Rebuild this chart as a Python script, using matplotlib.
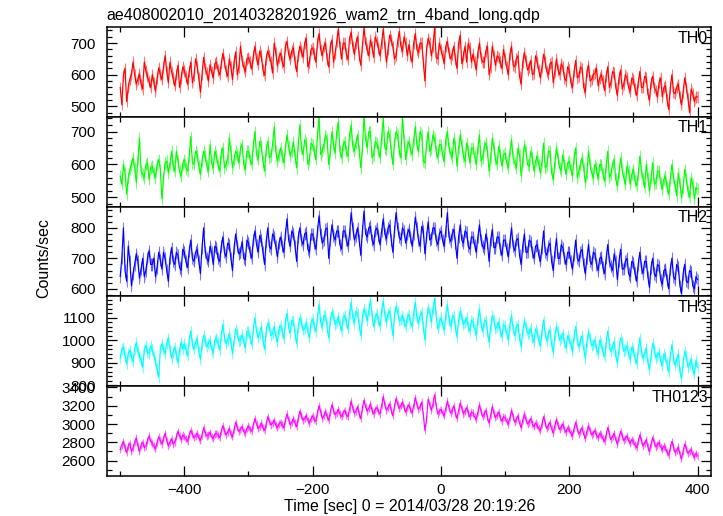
import numpy as np
import matplotlib
matplotlib.use('Agg')
import matplotlib.pyplot as plt
from matplotlib.ticker import MultipleLocator

plt.rcParams['font.family'] = ['Liberation Sans', 'DejaVu Sans']

TITLE = 'ae408002010_20140328201926_wam2_trn_4band_long.qdp'
XLABEL = 'Time [sec] 0 = 2014/03/28 20:19:26'
YLABEL = 'Counts/sec'

# time bins: main samples every 5 s from -500 to 400, plus the samples halfway between
t_start, t_stop, t_step = -500, 400, 5

# count rates, at the 5 s samples
th0 = [560, 598, 515, 585, 640, 570, 603, 555, 612, 578,
       600, 548, 622, 585, 660, 575, 610, 565, 630, 590,
       612, 570, 640, 598, 625, 545, 655, 605, 632, 590,
       640, 600, 668, 612, 650, 585, 672, 625, 645, 610,
       655, 618, 690, 632, 660, 598, 675, 640, 700, 628,
       668, 625, 705, 650, 685, 610, 690, 655, 715, 640,
       685, 640, 730, 660, 700, 625, 710, 668, 745, 650,
       700, 648, 735, 665, 720, 630, 748, 680, 710, 655,
       705, 660, 745, 640, 725, 690, 660, 738, 675, 700,
       695, 640, 730, 670, 700, 580, 715, 660, 748, 650,
       680, 635, 705, 650, 690, 620, 725, 660, 640, 685,
       665, 615, 700, 640, 675, 600, 690, 630, 655, 620,
       650, 600, 690, 625, 660, 570, 670, 615, 645, 605,
       640, 590, 665, 610, 635, 575, 650, 600, 625, 580,
       615, 560, 645, 595, 620, 545, 630, 585, 605, 565,
       600, 550, 625, 575, 605, 535, 615, 570, 590, 548,
       585, 535, 610, 560, 590, 520, 595, 550, 575, 530,
       565, 490, 600, 540, 570, 505, 590, 525, 555, 515,
       530]
# and halfway between them
th0_mid = [505, 620, 560, 600, 600, 585, 570, 640, 595, 560,
           575, 590, 600, 625, 610, 640, 590, 600, 560, 625,
           595, 610, 575, 650, 590, 600, 620, 580, 610, 635,
           615, 635, 640, 595, 625, 640, 600, 690, 625, 650,
           640, 660, 650, 675, 615, 650, 660, 605, 670, 655,
           640, 690, 665, 675, 640, 660, 675, 700, 625, 680,
           665, 700, 680, 690, 650, 690, 640, 705, 690, 700,
           665, 715, 690, 700, 660, 690, 700, 660, 690, 720,
           685, 700, 690, 680, 710, 650, 705, 690, 720, 660,
           660, 700, 680, 700, 640, 680, 700, 690, 655, 700,
           660, 690, 670, 665, 650, 700, 635, 690, 700, 640,
           640, 670, 655, 640, 690, 625, 660, 660, 640, 680,
           625, 665, 630, 650, 595, 640, 645, 625, 600, 660,
           615, 625, 640, 600, 640, 610, 615, 635, 590, 625,
           575, 610, 590, 625, 560, 610, 580, 600, 620, 590,
           580, 595, 560, 610, 560, 590, 555, 600, 560, 590,
           555, 575, 560, 595, 540, 575, 560, 530, 590, 560,
           520, 560, 545, 560, 530, 545, 560, 480, 540, 530]

th1 = [565, 600, 510, 585, 620, 545, 680, 570, 600, 555,
       595, 560, 615, 495, 605, 575, 640, 580, 610, 565,
       615, 580, 685, 600, 630, 570, 640, 595, 660, 590,
       625, 580, 650, 600, 680, 590, 640, 605, 660, 585,
       640, 600, 700, 615, 655, 580, 670, 625, 715, 610,
       650, 605, 690, 625, 670, 590, 720, 630, 665, 615,
       660, 615, 745, 640, 690, 600, 700, 635, 730, 620,
       670, 625, 720, 640, 690, 590, 745, 650, 700, 630,
       665, 620, 740, 645, 690, 600, 700, 640, 745, 615,
       670, 630, 715, 640, 690, 605, 700, 650, 680, 620,
       660, 610, 700, 635, 680, 595, 690, 625, 665, 605,
       650, 600, 690, 620, 665, 580, 680, 615, 655, 595,
       635, 590, 675, 605, 650, 565, 660, 600, 640, 580,
       625, 575, 665, 595, 640, 555, 650, 590, 630, 570,
       610, 565, 650, 580, 620, 545, 640, 575, 600, 555,
       600, 550, 640, 570, 615, 535, 620, 560, 595, 540,
       585, 535, 625, 555, 600, 520, 605, 545, 580, 525,
       565, 510, 600, 535, 575, 500, 585, 520, 560, 495,
       525]
th1_mid = [540, 575, 560, 600, 590, 615, 580, 560, 605, 590,
           575, 600, 585, 560, 610, 600, 595, 640, 580, 600,
           590, 625, 605, 640, 595, 610, 625, 580, 605, 640,
           600, 635, 590, 615, 640, 615, 630, 650, 600, 640,
           615, 660, 630, 670, 610, 645, 620, 660, 640, 630,
           625, 650, 655, 640, 625, 660, 650, 675, 600, 665,
           640, 690, 630, 660, 675, 640, 660, 700, 640, 660,
           640, 690, 655, 665, 640, 650, 675, 700, 620, 670,
           645, 680, 650, 700, 640, 665, 690, 620, 675, 655,
           645, 675, 660, 700, 610, 660, 640, 690, 640, 660,
           630, 675, 650, 620, 655, 650, 660, 610, 640, 650,
           625, 650, 610, 655, 640, 620, 650, 600, 630, 630,
           605, 640, 620, 590, 630, 610, 640, 595, 620, 610,
           600, 610, 590, 640, 575, 605, 620, 580, 600, 605,
           585, 620, 560, 600, 590, 575, 600, 560, 590, 600,
           570, 595, 560, 600, 555, 575, 585, 540, 580, 570,
           550, 570, 580, 530, 560, 560, 540, 580, 545, 555,
           530, 555, 560, 505, 540, 530, 555, 500, 540, 530]

th2 = [640, 800, 625, 690, 650, 715, 635, 700, 660, 725,
       680, 640, 720, 665, 700, 625, 735, 680, 710, 660,
       720, 670, 760, 690, 730, 650, 800, 700, 740, 680,
       735, 690, 770, 705, 745, 660, 780, 715, 755, 695,
       750, 700, 790, 720, 760, 680, 800, 730, 770, 705,
       770, 720, 830, 740, 780, 690, 800, 745, 785, 720,
       780, 730, 840, 750, 795, 700, 810, 760, 790, 730,
       790, 740, 850, 760, 800, 710, 855, 770, 805, 745,
       800, 745, 830, 765, 810, 720, 850, 770, 800, 750,
       795, 740, 835, 760, 805, 715, 820, 765, 800, 745,
       790, 740, 850, 755, 795, 700, 810, 750, 785, 730,
       770, 720, 810, 740, 780, 690, 795, 735, 770, 710,
       760, 705, 800, 725, 765, 680, 780, 720, 755, 700,
       745, 690, 790, 710, 750, 660, 765, 700, 735, 680,
       720, 665, 760, 690, 730, 650, 745, 680, 715, 660,
       705, 650, 745, 675, 715, 630, 730, 665, 700, 640,
       685, 625, 720, 650, 690, 605, 700, 640, 675, 615,
       665, 600, 700, 630, 670, 585, 680, 620, 655, 600,
       630]
th2_mid = [700, 660, 740, 610, 680, 690, 665, 640, 700, 680,
           700, 670, 695, 720, 660, 700, 690, 720, 670, 730,
           690, 725, 700, 720, 690, 735, 720, 690, 720, 740,
           700, 740, 720, 750, 700, 735, 740, 720, 700, 760,
           720, 760, 745, 775, 720, 755, 740, 780, 740, 750,
           740, 780, 760, 790, 740, 770, 760, 780, 730, 780,
           750, 790, 780, 760, 800, 760, 775, 790, 745, 790,
           760, 780, 800, 775, 760, 790, 780, 800, 760, 790,
           775, 790, 780, 800, 760, 790, 800, 760, 790, 780,
           770, 780, 800, 740, 790, 770, 760, 800, 760, 780,
           760, 790, 770, 780, 750, 770, 760, 790, 740, 770,
           745, 770, 760, 730, 750, 760, 735, 770, 730, 760,
           730, 755, 740, 760, 710, 740, 720, 760, 720, 740,
           710, 735, 720, 740, 690, 720, 700, 745, 700, 720,
           690, 710, 700, 720, 680, 700, 690, 720, 680, 700,
           670, 700, 690, 660, 690, 690, 665, 690, 650, 690,
           650, 680, 670, 690, 640, 670, 650, 680, 630, 660,
           630, 665, 640, 680, 610, 650, 625, 660, 610, 640]

th3 = [920, 970, 895, 955, 905, 990, 930, 880, 975, 940,
       960, 905, 835, 985, 940, 1010, 920, 970, 900, 990,
       985, 930, 1040, 960, 1005, 915, 1020, 970, 1000, 945,
       1010, 955, 1070, 985, 1030, 940, 1050, 995, 1025, 965,
       1040, 980, 1100, 1010, 1060, 960, 1075, 1020, 1060, 990,
       1065, 1005, 1120, 1030, 1085, 985, 1100, 1045, 1080, 1010,
       1095, 1040, 1160, 1060, 1110, 1010, 1125, 1070, 1105, 1040,
       1110, 1050, 1170, 1075, 1120, 1020, 1140, 1085, 1180, 1060,
       1120, 1060, 1175, 1080, 1130, 1020, 1150, 1085, 1110, 1060,
       1115, 1060, 1170, 1075, 1125, 1000, 1145, 1080, 1185, 1050,
       1100, 1045, 1160, 1060, 1110, 1015, 1130, 1070, 1100, 1040,
       1080, 1020, 1140, 1040, 1090, 990, 1110, 1050, 1080, 1015,
       1060, 1000, 1110, 1020, 1070, 970, 1085, 1030, 1055, 990,
       1035, 975, 1090, 995, 1045, 945, 1060, 1000, 1030, 965,
       1005, 950, 1060, 970, 1020, 920, 1035, 975, 1000, 940,
       985, 925, 1040, 950, 995, 900, 1010, 950, 975, 915,
       955, 895, 1010, 920, 965, 870, 985, 920, 945, 885,
       925, 860, 980, 890, 940, 830, 950, 880, 915, 850,
       880]
th3_mid = [960, 930, 940, 925, 960, 950, 910, 960, 945, 975,
           930, 870, 960, 960, 985, 960, 945, 935, 955, 960,
           960, 1000, 985, 990, 950, 980, 1000, 985, 960, 1000,
           990, 1020, 1010, 1000, 990, 1000, 1030, 1000, 995, 1040,
           1010, 1050, 1040, 1030, 1000, 1040, 1060, 1030, 1020, 1050,
           1040, 1080, 1060, 1090, 1030, 1060, 1080, 1050, 1040, 1080,
           1060, 1100, 1080, 1110, 1060, 1090, 1110, 1080, 1070, 1100,
           1080, 1120, 1100, 1130, 1070, 1100, 1120, 1130, 1110, 1100,
           1090, 1130, 1110, 1120, 1080, 1110, 1130, 1090, 1080, 1100,
           1080, 1120, 1100, 1110, 1060, 1090, 1120, 1140, 1110, 1080,
           1070, 1110, 1090, 1100, 1060, 1090, 1100, 1080, 1060, 1090,
           1050, 1090, 1070, 1080, 1040, 1060, 1090, 1060, 1040, 1070,
           1030, 1070, 1050, 1060, 1010, 1040, 1060, 1030, 1010, 1050,
           1000, 1040, 1030, 1030, 980, 1020, 1040, 1010, 990, 1020,
           980, 1020, 1000, 1000, 960, 990, 1010, 980, 960, 1000,
           950, 990, 980, 970, 930, 960, 990, 960, 940, 970,
           920, 960, 950, 940, 900, 930, 960, 930, 910, 940,
           890, 930, 920, 910, 860, 900, 930, 890, 870, 910]

th0123 = [2720, 2810, 2690, 2790, 2740, 2850, 2700, 2800, 2760, 2870,
          2790, 2730, 2860, 2780, 2900, 2760, 2840, 2800, 2920, 2830,
          2860, 2810, 2930, 2850, 2900, 2820, 2960, 2870, 2910, 2840,
          2900, 2850, 2980, 2880, 2950, 2860, 3020, 2920, 2970, 2900,
          2980, 2920, 3060, 2950, 3010, 2930, 3080, 2990, 3040, 2960,
          3020, 2960, 3110, 2990, 3060, 2970, 3140, 3040, 3090, 3010,
          3090, 3030, 3200, 3060, 3140, 3040, 3210, 3100, 3160, 3080,
          3150, 3080, 3250, 3120, 3190, 3060, 3260, 3140, 3220, 3110,
          3180, 3110, 3300, 3150, 3220, 3090, 3280, 3170, 3240, 3130,
          3210, 3120, 3290, 3160, 3240, 2930, 3270, 3150, 3320, 3110,
          3160, 3090, 3250, 3120, 3200, 3060, 3230, 3110, 3180, 3080,
          3120, 3050, 3210, 3080, 3150, 3010, 3190, 3070, 3130, 3030,
          3070, 3000, 3150, 3020, 3090, 2960, 3110, 3000, 3060, 2970,
          2990, 2930, 3080, 2950, 3020, 2900, 3050, 2940, 3000, 2910,
          2940, 2870, 3020, 2890, 2960, 2840, 2980, 2880, 2930, 2850,
          2880, 2810, 2960, 2830, 2900, 2780, 2920, 2820, 2870, 2790,
          2810, 2740, 2880, 2760, 2830, 2700, 2850, 2750, 2800, 2720,
          2740, 2660, 2810, 2690, 2750, 2620, 2780, 2680, 2720, 2640,
          2650]
th0123_mid = [2770, 2740, 2760, 2700, 2800, 2760, 2770, 2740, 2820, 2810,
              2760, 2800, 2820, 2840, 2820, 2800, 2780, 2860, 2870, 2880,
              2840, 2880, 2890, 2870, 2850, 2880, 2900, 2880, 2860, 2890,
              2880, 2920, 2930, 2910, 2890, 2940, 2960, 2940, 2920, 2950,
              2940, 2990, 3000, 2970, 2960, 3000, 3030, 3010, 2990, 3000,
              2990, 3040, 3050, 3020, 3010, 3060, 3090, 3060, 3040, 3060,
              3050, 3120, 3130, 3090, 3080, 3130, 3150, 3120, 3110, 3120,
              3100, 3160, 3170, 3140, 3110, 3170, 3190, 3170, 3150, 3160,
              3140, 3200, 3210, 3180, 3150, 3190, 3220, 3200, 3180, 3180,
              3160, 3200, 3210, 3190, 3100, 3050, 3210, 3220, 3200, 3140,
              3120, 3170, 3180, 3150, 3120, 3150, 3170, 3140, 3120, 3130,
              3080, 3130, 3140, 3110, 3070, 3100, 3120, 3100, 3070, 3080,
              3030, 3070, 3080, 3050, 3010, 3040, 3050, 3020, 3000, 3010,
              2950, 3000, 3010, 2980, 2950, 2980, 2990, 2970, 2940, 2960,
              2900, 2950, 2950, 2920, 2890, 2920, 2930, 2900, 2880, 2900,
              2840, 2880, 2890, 2860, 2830, 2850, 2870, 2840, 2820, 2830,
              2770, 2810, 2820, 2790, 2750, 2780, 2800, 2770, 2750, 2760,
              2690, 2740, 2750, 2710, 2670, 2700, 2730, 2700, 2670, 2680]

# typical 1-sigma error per band
errors = [18, 18, 20, 24, 40]
band_names = ['TH0', 'TH1', 'TH2', 'TH3', 'TH0123']
series = [(th0, th0_mid), (th1, th1_mid), (th2, th2_mid), (th3, th3_mid),
          (th0123, th0123_mid)]

y_limits = [(467, 751), (472, 745), (575, 870), (795, 1195), (2432, 3413)]
y_major = [100, 100, 100, 100, 200]
y_minor = [20, 20, 20, 20, 100]
colors = ['#ff0000', '#00ff00', '#0000ff', '#00ffff', '#ff00ff']


def merge(main_vals, mid_vals):
    # put the half-step samples between the 5 s samples
    out = np.empty(len(main_vals) + len(mid_vals))
    out[0::2] = main_vals
    out[1::2] = mid_vals
    return out


def main():
    t_main = np.arange(t_start, t_stop + t_step, t_step)
    t = np.empty(2 * len(t_main) - 1)
    t[0::2] = t_main
    t[1::2] = t_main[:-1] + t_step / 2

    fig, axes = plt.subplots(5, 1, sharex=True, figsize=(7.23, 5.16), dpi=100)
    fig.subplots_adjust(left=0.1476, right=0.9834, top=0.9477, bottom=0.0775, hspace=0)

    for ax, (y_main, y_mid), err, name, lim, maj, mnr, c in zip(
            axes, series, errors, band_names, y_limits, y_major, y_minor, colors):
        y = merge(y_main, y_mid)
        # error bars, lighter than the curve itself
        ax.fill_between(t, y - err, y + err, color=c, alpha=0.3, lw=0)
        ax.vlines(t, y - err, y + err, color=c, alpha=0.45, lw=0.8)
        ax.plot(t, y, color=c, lw=0.8)
        ax.set_ylim(*lim)
        ax.set_xlim(-521, 421)
        ax.yaxis.set_major_locator(MultipleLocator(maj))
        ax.yaxis.set_minor_locator(MultipleLocator(mnr))
        ax.xaxis.set_major_locator(MultipleLocator(200))
        ax.xaxis.set_minor_locator(MultipleLocator(100))
        ax.tick_params(which='both', direction='in', top=True, right=True,
                       labelsize=11, colors='black', width=0.9)
        ax.tick_params(axis='y', which='major', length=7, pad=8)
        ax.tick_params(axis='x', which='major', length=7, pad=5)
        ax.tick_params(which='minor', length=3.5)
        for s in ax.spines.values():
            s.set_linewidth(1.1)
        ax.text(0.995, 0.96, name, transform=ax.transAxes, ha='right', va='top',
                fontsize=11.5)

    axes[0].set_title(TITLE, loc='left', fontsize=11.5, pad=5)
    fig.text(0.06, 0.5, YLABEL, rotation=90, ha='center', va='center', fontsize=11.5)
    fig.text(0.566, 0.018, XLABEL, ha='center', va='center', fontsize=11.5)

    plt.savefig('out.png', dpi=100)


if __name__ == '__main__':
    main()
